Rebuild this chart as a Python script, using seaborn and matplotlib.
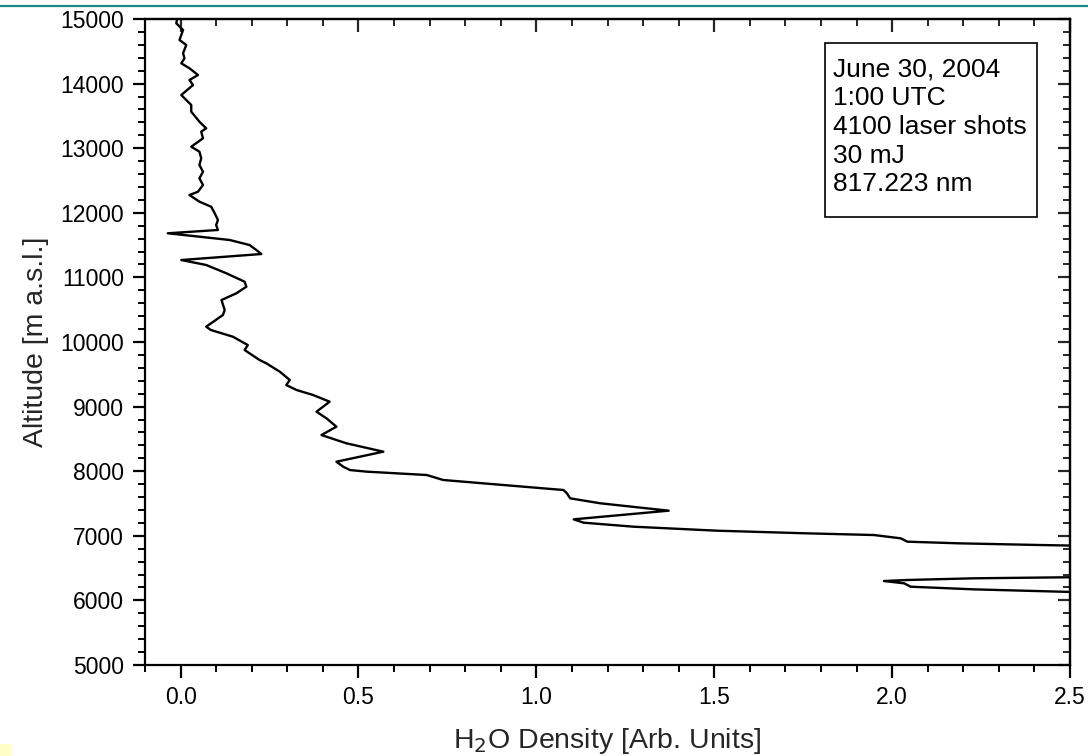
import matplotlib
matplotlib.use("Agg")
import matplotlib.pyplot as plt
import seaborn as sns
import pandas as pd
from matplotlib.ticker import MultipleLocator
from matplotlib.patches import Rectangle

altitude = [15000, 14933, 14830, 14675, 14598, 14469, 14392, 14314, 14237, 14133,
            14056, 13978, 13823, 13669, 13565, 13410, 13308, 13256, 13153, 13023,
            12946, 12844, 12740, 12636, 12534, 12430, 12327, 12275, 12172, 12094,
            11992, 11889, 11811, 11734, 11683, 11630, 11579, 11501, 11424, 11362,
            11269, 11192, 11063, 10933, 10856, 10754, 10650, 10495, 10418, 10237,
            10186, 10082, 9953, 9876, 9721, 9670, 9540, 9412, 9334, 9257,
            9180, 9076, 8921, 8819, 8689, 8560, 8432, 8302, 8147, 8070,
            8018, 7993, 7941, 7864, 7812, 7709, 7658, 7580, 7503, 7389,
            7255, 7203, 7141, 7079, 7038, 7012, 6961, 6909, 6884, 6857,
            6830, 6500, 6380, 6358, 6342, 6316, 6300, 6264, 6212, 6171,
            6134, 6100, 5000]
density = [-0.010, -0.012, 0.007, -0.003, 0.016, 0.007, 0.011, 0.002, 0.025, 0.049,
           0.025, 0.035, 0.002, 0.030, 0.030, 0.053, 0.072, 0.058, 0.063, 0.030,
           0.053, 0.058, 0.053, 0.063, 0.053, 0.063, 0.049, 0.025, 0.053, 0.086,
           0.096, 0.105, 0.100, 0.105, -0.036, 0.053, 0.138, 0.194, 0.213, 0.227,
           0.002, 0.072, 0.129, 0.180, 0.185, 0.157, 0.115, 0.124, 0.119, 0.072,
           0.085, 0.147, 0.189, 0.180, 0.222, 0.241, 0.279, 0.307, 0.297, 0.326,
           0.372, 0.419, 0.382, 0.410, 0.438, 0.396, 0.466, 0.570, 0.438, 0.457,
           0.476, 0.523, 0.692, 0.738, 0.851, 1.076, 1.086, 1.095, 1.180, 1.372,
           1.105, 1.133, 1.273, 1.508, 1.761, 1.949, 2.024, 2.043, 2.184, 2.418,
           2.700, 2.900, 2.700, 2.494, 2.230, 2.043, 1.977, 2.034, 2.052, 2.230,
           2.480, 2.700, 3.000]

x_ticks = [0.0, 0.5, 1.0, 1.5, 2.0, 2.5]
y_ticks = list(range(5000, 15001, 1000))
info_lines = ["June 30, 2004", "1:00 UTC", "4100 laser shots", "30 mJ", "817.223 nm"]

sns.set_theme(style="white")
plt.rcParams['font.family'] = ['Liberation Sans', 'DejaVu Sans']

fig = plt.figure(figsize=(10.88, 7.56), dpi=100)
ax = fig.add_axes([145/1088, 1-665/756, 925/1088, 646/756])

df = pd.DataFrame({"density": density, "altitude": altitude})
sns.lineplot(data=df, x="density", y="altitude", sort=False, estimator=None,
             color="black", linewidth=1.7, ax=ax)

ax.set_xlim(-0.1, 2.5)
ax.set_ylim(5000, 15000)
ax.set_xticks(x_ticks)
ax.set_xticklabels([f"{v:.1f}" for v in x_ticks])
ax.set_yticks(y_ticks)
ax.set_yticklabels([str(v) for v in y_ticks])
ax.xaxis.set_minor_locator(MultipleLocator(0.1))
ax.yaxis.set_minor_locator(MultipleLocator(200))

for s in ax.spines.values():
    s.set_visible(True)
    s.set_color("black")
    s.set_linewidth(1.6)

ax.tick_params(axis="both", which="major", direction="out", length=9, width=1.6,
               labelsize=16.5, colors="black", pad=6)
ax.tick_params(axis="both", which="minor", direction="out", length=5, width=1.4, colors="black")
ax.tick_params(axis="both", which="both", bottom=True, left=True)

# mirrored inward ticks on top and right
axt = ax.secondary_xaxis("top")
axt.set_xticks(x_ticks)
axt.set_xticklabels([])
axt.xaxis.set_minor_locator(MultipleLocator(0.1))
axt.tick_params(which="major", direction="in", length=9, width=1.6)
axt.tick_params(which="minor", direction="in", length=5, width=1.4)
axt.spines["top"].set_linewidth(1.6)
axr = ax.secondary_yaxis("right")
axr.set_yticks(y_ticks)
axr.set_yticklabels([])
axr.yaxis.set_minor_locator(MultipleLocator(200))
axr.tick_params(which="major", direction="in", length=9, width=1.6)
axr.tick_params(which="minor", direction="in", length=5, width=1.4)
axr.spines["right"].set_linewidth(1.6)

ax.set_xlabel("H$_2$O Density [Arb. Units]", fontsize=20.5, labelpad=12)
ax.set_ylabel("Altitude [m a.s.l.]", fontsize=20.5, labelpad=8)

# info box
ax.add_patch(Rectangle((0.735, 0.6935), 0.229, 0.2695, transform=ax.transAxes,
                       fill=False, edgecolor="black", linewidth=1.2, zorder=5))
for i, line in enumerate(info_lines):
    ax.text(0.744, 0.94 - i * 0.0444, line, transform=ax.transAxes,
            fontsize=19, va="top", ha="left", color="black", zorder=6)

# decorations of the source page
fig.add_artist(plt.Line2D([0, 1], [1 - 6/756, 1 - 6/756], transform=fig.transFigure,
                          color="#1b8a84", linewidth=1.6))
fig.add_artist(Rectangle((0, 0), 12/1088, 12/756, transform=fig.transFigure,
                         facecolor="#ffffc8", edgecolor="none"))

fig.savefig("out.png", dpi=100)
